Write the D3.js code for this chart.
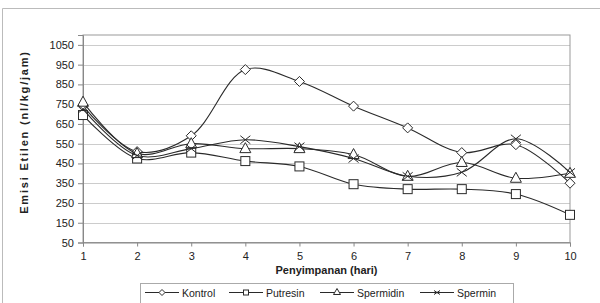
<!DOCTYPE html>
<html>
<head>
<meta charset="utf-8">
<script src="https://cdn.jsdelivr.net/npm/d3@7"></script>
<style>
  body { margin: 0; background: #fff; }
  svg { font-family: "Liberation Sans", Arial, sans-serif; }
</style>
</head>
<body>
<div id="main"></div>
<script>
const days = [1, 2, 3, 4, 5, 6, 7, 8, 9, 10]
const kontrol = [740, 510, 590, 925, 865, 740, 630, 505, 545, 350]
const putresin = [695, 475, 505, 462, 435, 345, 320, 320, 295, 190]
const spermidin = [760, 500, 550, 525, 525, 495, 385, 455, 375, 400]
const spermin = [725, 490, 525, 570, 535, 475, 385, 405, 575, 405]
const seriesNames = ["Kontrol", "Putresin", "Spermidin", "Spermin"]
const yTicks = [50, 150, 250, 350, 450, 550, 650, 750, 850, 950, 1050]

const series = [
  {name: seriesNames[0], values: kontrol, shape: "diamond"},
  {name: seriesNames[1], values: putresin, shape: "square"},
  {name: seriesNames[2], values: spermidin, shape: "triangle"},
  {name: seriesNames[3], values: spermin, shape: "cross"}
]

const W = 600, H = 303
const plotL = 83, plotR = 570, plotT = 35, plotB = 242.5

let svg = d3.select('div#main').append('svg')
  .attr('width', W)
  .attr('height', H)

// outer chart frame
svg.append('path')
  .attr('d', `M2.5,${H} V8.5 H${W}`)
  .attr('fill', 'none')
  .attr('stroke', '#bbb')

let x = d3.scaleLinear().domain([1, 10]).range([plotL, plotR])
let y = d3.scaleLinear().domain([50, 1100]).range([plotB, plotT])

// gridlines
svg.append('g')
  .selectAll('line')
  .data(yTicks.slice(1))
  .enter()
  .append('line')
    .attr('x1', plotL).attr('x2', plotR)
    .attr('y1', (d) => Math.round(y(d)) + 0.5)
    .attr('y2', (d) => Math.round(y(d)) + 0.5)
    .attr('stroke', '#ccc')

// plot frame
svg.append('rect')
  .attr('x', plotL).attr('y', plotT)
  .attr('width', plotR - plotL).attr('height', plotB - plotT)
  .attr('fill', 'none')
  .attr('stroke', '#999')

let yAxis = svg.append('g')
  .attr('transform', `translate(${plotL},0)`)
  .call(d3.axisLeft(y).tickValues(yTicks).tickSize(5).tickPadding(4).tickFormat(d3.format('d')))
yAxis.select('.domain').attr('stroke', '#888')
yAxis.selectAll('line').attr('stroke', '#888')
yAxis.selectAll('text').attr('font-size', 11).attr('fill', '#222')
  .attr('font-family', '"Liberation Sans", Arial, sans-serif')

let xAxis = svg.append('g')
  .attr('transform', `translate(0,${plotB})`)
  .call(d3.axisBottom(x).tickValues(days).tickSize(4).tickPadding(6).tickFormat(d3.format('d')))
xAxis.select('.domain').attr('stroke', '#888')
xAxis.selectAll('line').attr('stroke', '#888')
xAxis.selectAll('text').attr('font-size', 11).attr('fill', '#222')
  .attr('font-family', '"Liberation Sans", Arial, sans-serif')

// axis titles
svg.append('text')
  .attr('x', plotL + (plotR - plotL) / 2)
  .attr('y', 274)
  .attr('text-anchor', 'middle')
  .attr('font-size', 11)
  .attr('font-weight', 'bold')
  .attr('fill', '#222')
  .text('Penyimpanan (hari)')

svg.append('text')
  .attr('transform', 'translate(28,132) rotate(-90)')
  .attr('text-anchor', 'middle')
  .attr('font-size', 11)
  .attr('font-weight', 'bold')
  .attr('letter-spacing', '1.8px')
  .attr('fill', '#222')
  .text('Emisi Etilen (nl/kg/jam)')

function marker(g, shape, s) {
  if (shape === 'diamond') {
    g.append('path').attr('d', `M0,${-s} L${s},0 L0,${s} L${-s},0 Z`)
  } else if (shape === 'square') {
    g.append('rect').attr('x', -s + 0.5).attr('y', -s + 0.5).attr('width', 2 * s - 1).attr('height', 2 * s - 1)
  } else if (shape === 'triangle') {
    g.append('path').attr('d', `M0,${-s - 1} L${s + 0.5},${s - 1} L${-s - 0.5},${s - 1} Z`)
  } else {
    g.append('path').attr('d', `M${-s},${-s + 1} L${s},${s - 1} M${-s},${s - 1} L${s},${-s + 1}`)
  }
}

let line = d3.line()
  .x((d, i) => x(days[i]))
  .y((d) => y(d))
  .curve(d3.curveCatmullRom.alpha(0.5))

series.forEach((s) => {
  let g = svg.append('g')
    .attr('stroke', '#2a2a2a')
    .attr('fill', 'none')

  g.append('path')
    .attr('d', line(s.values))
    .attr('stroke-width', 1.1)

  g.selectAll('g.pt')
    .data(s.values)
    .enter()
    .append('g')
      .attr('class', 'pt')
      .attr('transform', (d, i) => `translate(${x(days[i])},${y(d)})`)
      .attr('fill', s.shape === 'cross' ? 'none' : '#fff')
      .each(function () { marker(d3.select(this), s.shape, 5) })
})

// legend
let legend = svg.append('g')
legend.append('rect')
  .attr('x', 140.5).attr('y', 283.5)
  .attr('width', 373).attr('height', 30)
  .attr('fill', '#fff')
  .attr('stroke', '#aaa')

const legendX = [145, 229, 320, 420]
series.forEach((s, i) => {
  let g = legend.append('g').attr('transform', `translate(${legendX[i]},292.5)`)
  g.append('line').attr('x1', 0).attr('x2', 34).attr('stroke', '#2a2a2a').attr('stroke-width', 1.1)
  let m = g.append('g')
    .attr('transform', 'translate(17,0)')
    .attr('stroke', '#2a2a2a')
    .attr('fill', s.shape === 'cross' ? 'none' : '#fff')
  marker(m, s.shape, 3)
  g.append('text')
    .attr('x', 37).attr('y', 4)
    .attr('font-size', 10.5)
    .attr('fill', '#222')
    .text(s.name)
})
</script>
</body>
</html>
